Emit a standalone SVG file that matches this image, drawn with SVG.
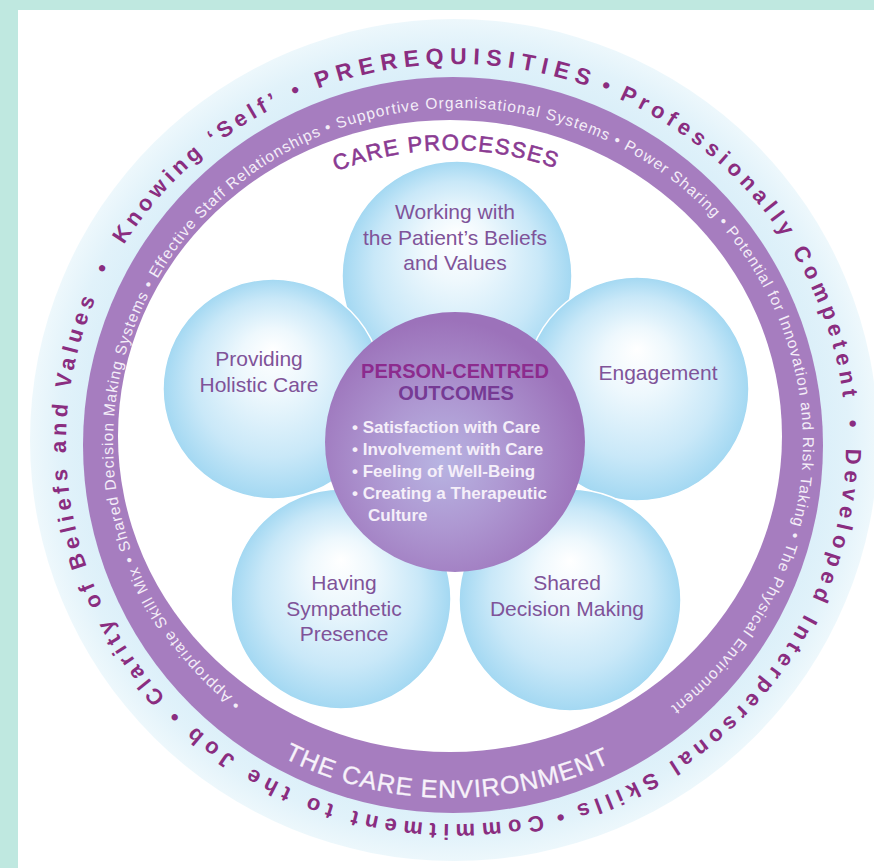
<svg xmlns="http://www.w3.org/2000/svg" width="874" height="868" viewBox="0 0 874 868">
<defs>
  <radialGradient id="ringGrad" cx="454" cy="440" r="424" gradientUnits="userSpaceOnUse">
    <stop offset="0.8" stop-color="#d6edf8"/>
    <stop offset="0.93" stop-color="#e1f2fa"/>
    <stop offset="1" stop-color="#eef8fc"/>
  </radialGradient>
  <radialGradient id="bubbleGrad" cx="0.5" cy="0.5" r="0.5" fx="0.5" fy="0.32">
    <stop offset="0" stop-color="#ffffff"/>
    <stop offset="0.3" stop-color="#eef8fd"/>
    <stop offset="0.72" stop-color="#c9e8f8"/>
    <stop offset="1" stop-color="#a3d8f2"/>
  </radialGradient>
  <radialGradient id="coreGrad" cx="0.45" cy="0.58" r="0.55">
    <stop offset="0" stop-color="#b8b4e2"/>
    <stop offset="0.45" stop-color="#ae98d2"/>
    <stop offset="1" stop-color="#9c72ba"/>
  </radialGradient>
  <path id="outerPath" d="M456,64 A390,380 0 0 1 456,824 A390,380 0 0 1 456,64 A390,380 0 0 1 456,824 A390,380 0 0 1 456,64"/>
  <path id="bandPath" d="M240.9,703.3 A345,335 0 1 1 665.6,710.5"/>
  <path id="cpPath" d="M150,436 A300,286 0 0 1 750,436"/>
  <path id="cePath" d="M86,440 A366,358 0 0 0 818,440"/>
</defs>
<style>
  .ring-txt { font-family: "Liberation Sans", Arial, sans-serif; font-weight: bold; font-size: 22px; fill: #8a2d80; }
  .caps { font-size: 23px; }
  .band-txt { font-family: "Liberation Sans", Arial, sans-serif; font-size: 15.5px; fill: #f4edf8; }
  .lbl { font-family: "Liberation Sans", Arial, sans-serif; font-size: 21px; fill: #7f5399; text-anchor: middle; }
  .core-h { font-family: "Liberation Sans", Arial, sans-serif; font-weight: bold; font-size: 20px; text-anchor: middle; }
  .core-li { font-family: "Liberation Sans", Arial, sans-serif; font-weight: bold; font-size: 17px; fill: #f5eff9; }
  .bubble { fill: url(#bubbleGrad); stroke: #ffffff; stroke-width: 1.5; }
  .mid { text-anchor: middle; }
</style>

<rect x="0" y="0" width="874" height="868" fill="#bfe8e0"/>
<rect x="18" y="10" width="856" height="858" fill="#ffffff"/>

<g id="prerequisites">
  <ellipse cx="454" cy="440" rx="424" ry="421" fill="url(#ringGrad)"/>
  <text class="ring-txt caps"><textPath href="#outerPath" startOffset="47.083%" textLength="275.5" lengthAdjust="spacing">PREREQUISITIES</textPath></text>
  <text class="ring-txt mid"><textPath href="#outerPath" startOffset="3.125%">•</textPath></text>
  <text class="ring-txt"><textPath href="#outerPath" startOffset="3.472%" textLength="389.8" lengthAdjust="spacing">Professionally Competent</textPath></text>
  <text class="ring-txt mid"><textPath href="#outerPath" startOffset="12.083%">•</textPath></text>
  <text class="ring-txt"><textPath href="#outerPath" startOffset="12.597%" textLength="478" lengthAdjust="spacing">Developed Interpersonal Skills</textPath></text>
  <text class="ring-txt mid"><textPath href="#outerPath" startOffset="22.85%">•</textPath></text>
  <text class="ring-txt"><textPath href="#outerPath" startOffset="23.2%" textLength="372" lengthAdjust="spacing">Commitment to the Job</textPath></text>
  <text class="ring-txt mid"><textPath href="#outerPath" startOffset="31.319%">•</textPath></text>
  <text class="ring-txt"><textPath href="#outerPath" startOffset="31.736%" textLength="427.4" lengthAdjust="spacing">Clarity of Beliefs and Values</textPath></text>
  <text class="ring-txt mid"><textPath href="#outerPath" startOffset="41.208%">•</textPath></text>
  <text class="ring-txt"><textPath href="#outerPath" startOffset="41.847%" textLength="210.3" lengthAdjust="spacing">Knowing ‘Self’</textPath></text>
  <text class="ring-txt mid"><textPath href="#outerPath" startOffset="46.639%">•</textPath></text>
</g>

<g id="care-environment">
  <ellipse cx="453" cy="445" rx="370" ry="368" fill="#a67dbf"/>
  <ellipse cx="450" cy="436" rx="332" ry="316" fill="#ffffff"/>
  <text class="band-txt"><textPath href="#bandPath" textLength="1685" lengthAdjust="spacing">• Appropriate Skill Mix • Shared Decision Making Systems • Effective Staff Relationships • Supportive Organisational Systems • Power Sharing • Potential for Innovation and Risk Taking • The Physical Environment •</textPath></text>
  <text font-family="Liberation Sans, Arial, sans-serif" font-size="25" fill="#f7f2fa" stroke="#f7f2fa" stroke-width="0.3" text-anchor="middle"><textPath href="#cePath" startOffset="49.5%" textLength="338" lengthAdjust="spacing">THE CARE ENVIRONMENT</textPath></text>
</g>

<g id="care-processes">
  <text font-family="Liberation Sans, Arial, sans-serif" font-size="22" fill="#8a3a92" stroke="#8a3a92" stroke-width="0.6" text-anchor="middle"><textPath href="#cpPath" startOffset="49.5%" textLength="224" lengthAdjust="spacing">CARE PROCESSES</textPath></text>
</g>

<g id="connectors"></g>

<g id="node-beliefs-values">
  <circle class="bubble" cx="457" cy="276" r="115"/>
  <text class="lbl" x="455" y="219">Working with</text>
  <text class="lbl" x="455" y="245">the Patient’s Beliefs</text>
  <text class="lbl" x="455" y="270">and Values</text>
</g>
<g id="node-holistic-care">
  <circle class="bubble" cx="273" cy="389" r="110"/>
  <text class="lbl" x="259" y="366">Providing</text>
  <text class="lbl" x="259" y="392">Holistic Care</text>
</g>
<g id="node-engagement">
  <circle class="bubble" cx="637" cy="389" r="112"/>
  <text class="lbl" x="658" y="380">Engagement</text>
</g>
<g id="node-sympathetic-presence">
  <circle class="bubble" cx="341" cy="599" r="110"/>
  <text class="lbl" x="344" y="590">Having</text>
  <text class="lbl" x="344" y="616">Sympathetic</text>
  <text class="lbl" x="344" y="641">Presence</text>
</g>
<g id="node-shared-decision">
  <circle class="bubble" cx="570" cy="600" r="111"/>
  <text class="lbl" x="567" y="590">Shared</text>
  <text class="lbl" x="567" y="616">Decision Making</text>
</g>

<g id="node-outcomes">
  <circle cx="455" cy="442" r="130" fill="url(#coreGrad)"/>
  <text class="core-h" x="455" y="378" fill="#8c2b8e">PERSON-CENTRED</text>
  <text class="core-h" x="456" y="400" fill="#763a94">OUTCOMES</text>
  <text class="core-li" x="352" y="433">• Satisfaction with Care</text>
  <text class="core-li" x="352" y="455">• Involvement with Care</text>
  <text class="core-li" x="352" y="477">• Feeling of Well-Being</text>
  <text class="core-li" x="352" y="499">• Creating a Therapeutic</text>
  <text class="core-li" x="368" y="521">Culture</text>
</g>
</svg>
